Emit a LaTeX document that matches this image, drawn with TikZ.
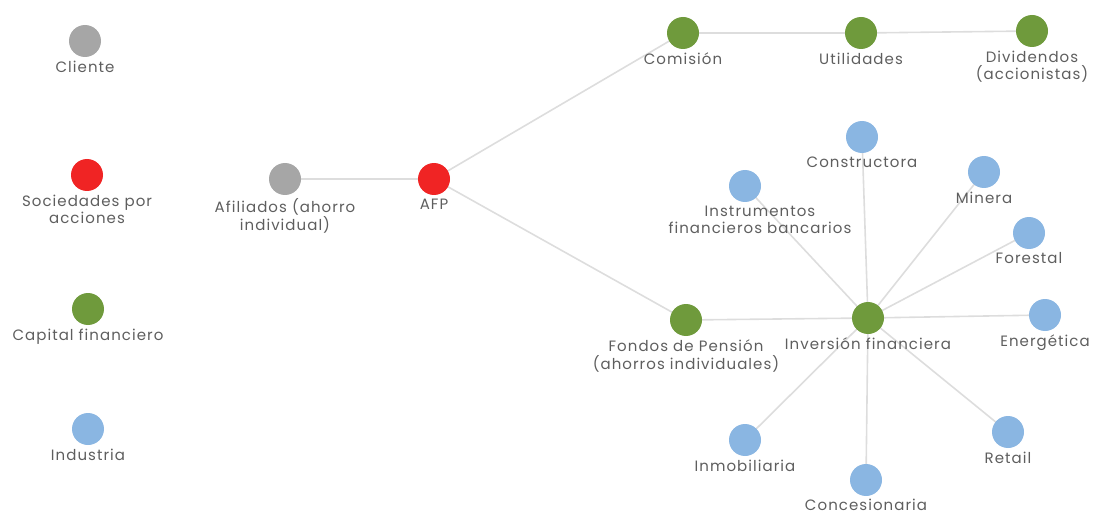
\documentclass[tikz,border=0pt]{standalone}
\usepackage{fontspec}
\setmainfont{Poppins}[LetterSpace=7]
\usetikzlibrary{positioning}
\definecolor{dotGray}{HTML}{A6A6A6}
\definecolor{dotRed}{HTML}{F02424}
\definecolor{dotGreen}{HTML}{6F9A3C}
\definecolor{dotBlue}{HTML}{8AB6E2}
\definecolor{edgeGray}{HTML}{DDDDDD}
\definecolor{textGray}{HTML}{5E5E5E}
\newcommand{\dotSize}{32pt}
\begin{document}
\begin{tikzpicture}[x=1pt, y=-1pt,
  dot/.style={circle, fill=#1, minimum size=\dotSize, inner sep=0pt,
    label distance=-4pt},
  txt/.style={text=textGray, font=\fontsize{15}{17.5}\selectfont, align=center},
  edge/.style={draw=edgeGray, line width=1.6pt}]
\useasboundingbox (0,0) rectangle (1093,516);
% legend
\node[dot=dotGray, label={[txt]below:Cliente}] (cliente) at (85,41) {};
\node[dot=dotRed, label={[txt]below:Sociedades por\\acciones}] (sociedades) at (87,175) {};
\node[dot=dotGreen, label={[txt]below:Capital financiero}] (capital) at (88,309) {};
\node[dot=dotBlue, label={[txt]below:Industria}] (industria) at (88,429) {};
% edges first, nodes drawn on top
\coordinate (pAfiliados) at (285,179);
\coordinate (pAfp) at (434,179);
\coordinate (pComision) at (683,33);
\coordinate (pUtilidades) at (861,33);
\coordinate (pDividendos) at (1032,31);
\coordinate (pFondos) at (686,320);
\coordinate (pInversion) at (868,318);
\coordinate (pConstructora) at (862,137);
\coordinate (pMinera) at (984,172);
\coordinate (pInstrumentos) at (745,186);
\coordinate (pForestal) at (1029,233);
\coordinate (pEnergetica) at (1045,315);
\coordinate (pInmobiliaria) at (745,440);
\coordinate (pRetail) at (1008,432);
\coordinate (pConcesionaria) at (866,480);
\draw[edge] (pAfiliados) -- (pAfp) -- (pComision) -- (pUtilidades) -- (pDividendos);
\draw[edge] (pAfp) -- (pFondos) -- (pInversion);
\foreach \leaf in {Constructora,Minera,Instrumentos,Forestal,Energetica,Inmobiliaria,Retail,Concesionaria}
  \draw[edge] (pInversion) -- (p\leaf);
% graph nodes
\node[dot=dotGray, label={[txt]below:Afiliados (ahorro\\individual)}] (afiliados) at (pAfiliados) {};
\node[dot=dotRed, label={[txt]below:AFP}] (afp) at (pAfp) {};
\node[dot=dotGreen, label={[txt]below:Comisión}] (comision) at (pComision) {};
\node[dot=dotGreen, label={[txt]below:Utilidades}] (utilidades) at (pUtilidades) {};
\node[dot=dotGreen, label={[txt]below:Dividendos\\(accionistas)}] (dividendos) at (pDividendos) {};
\node[dot=dotGreen, label={[txt]below:Fondos de Pensión\\(ahorros individuales)}] (fondos) at (pFondos) {};
\node[dot=dotGreen, label={[txt]below:Inversión financiera}] (inversion) at (pInversion) {};
\node[dot=dotBlue, label={[txt]below:Constructora}] (constructora) at (pConstructora) {};
\node[dot=dotBlue, label={[txt]below:Minera}] (minera) at (pMinera) {};
\node[dot=dotBlue, label={[txt, xshift=15pt]below:Instrumentos\\financieros bancarios}] (instrumentos) at (pInstrumentos) {};
\node[dot=dotBlue, label={[txt]below:Forestal}] (forestal) at (pForestal) {};
\node[dot=dotBlue, label={[txt]below:Energética}] (energetica) at (pEnergetica) {};
\node[dot=dotBlue, label={[txt]below:Inmobiliaria}] (inmobiliaria) at (pInmobiliaria) {};
\node[dot=dotBlue, label={[txt]below:Retail}] (retail) at (pRetail) {};
\node[dot=dotBlue, label={[txt, inner sep=1pt, yshift=-2pt]below:Concesionaria}] (concesionaria) at (pConcesionaria) {};
\end{tikzpicture}
\end{document}
